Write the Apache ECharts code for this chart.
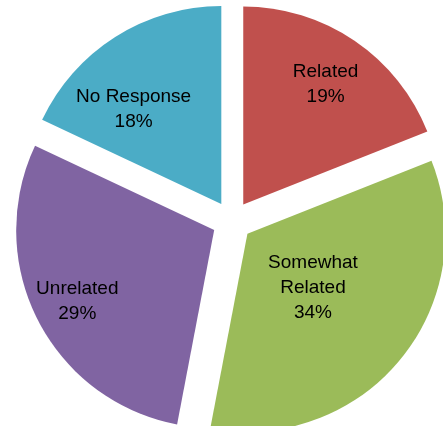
<!DOCTYPE html>
<html>
<head>
<meta charset="utf-8">
<script src="https://cdn.jsdelivr.net/npm/echarts@6/dist/echarts.min.js"></script>
<style>
html,body{margin:0;padding:0;background:#fff;}
#chart{width:443px;height:426px;}
</style>
</head>
<body>
<div id="chart"></div>
<script>
var categories = ['Related', 'Somewhat Related', 'Unrelated', 'No Response'];
var values = [19, 34, 29, 18];
var colors = ['#C0504D', '#9BBB59', '#8064A2', '#4BACC6'];
var labelNames = ['Related', 'Somewhat\nRelated', 'Unrelated', 'No Response'];
var labelShift = [[25, -36], [-13, -11], [-46, 25], [-33, -9]];

var chart = echarts.init(document.getElementById('chart'), null, {renderer: 'canvas'});
var data = categories.map(function (c, i) {
  return {
    name: c,
    value: values[i],
    selected: true,
    itemStyle: {color: colors[i]}
  };
});
chart.setOption({
  animation: false,
  backgroundColor: '#ffffff',
  series: [{
    type: 'pie',
    center: [232, 221],
    radius: 198,
    startAngle: 90,
    clockwise: true,
    selectedMode: 'multiple',
    selectedOffset: 20,
    avoidLabelOverlap: false,
    emphasis: {disabled: true},
    itemStyle: {borderWidth: 0},
    label: {
      show: true,
      position: 'inner',
      color: '#000000',
      fontFamily: 'Liberation Sans, Arial, sans-serif',
      fontSize: 19,
      lineHeight: 25,
      align: 'center',
      formatter: function (p) {
        return labelNames[p.dataIndex] + '\n' + p.percent + '%';
      }
    },
    labelLayout: function (p) {
      var s = labelShift[p.dataIndex];
      return {dx: s[0], dy: s[1]};
    },
    labelLine: {show: false},
    data: data
  }]
});
</script>
</body>
</html>
